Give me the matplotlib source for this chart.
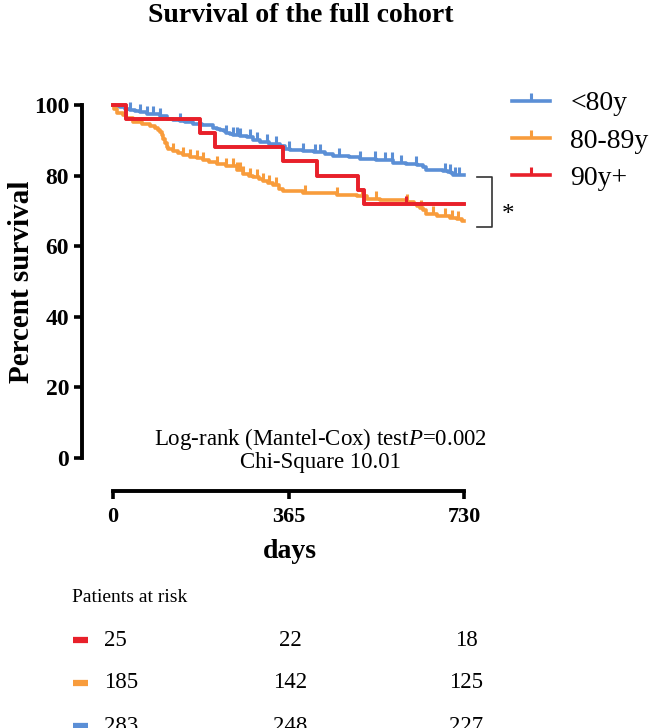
import numpy as np
import matplotlib
matplotlib.use("Agg")
import matplotlib.pyplot as plt
from matplotlib.lines import Line2D

plt.rcParams['font.family'] = ['Liberation Serif', 'DejaVu Serif']
plt.rcParams['mathtext.fontset'] = 'custom'
plt.rcParams['mathtext.rm'] = 'Liberation Serif'
plt.rcParams['mathtext.it'] = 'Liberation Serif:italic'

### survival curves (days, percent survival)
days_u80 = [0, 5, 15, 25, 35, 45, 56, 70, 98, 112, 125, 139, 150, 167, 185, 209, 216, 223, 230,
            236, 243, 250, 264, 278, 292, 306, 325, 347, 358, 368, 395, 417, 440, 458, 490, 514,
            548, 583, 610, 632, 645, 652, 687, 697, 703, 708, 730]
surv_u80 = [100, 99.6, 99.3, 98.9, 98.6, 98.2, 97.9, 97.5, 96.8, 96.1, 95.8, 95.4, 95.1, 94.7, 94.3,
            93.6, 93.3, 92.9, 92.6, 92.2, 91.9, 91.5, 91.2, 90.8, 90.1, 89.4, 89.0, 88.3, 87.6, 87.3,
            86.9, 86.6, 86.2, 85.5, 85.2, 84.8, 84.5, 83.7, 83.4, 83.0, 82.3, 81.6, 81.3, 80.9, 80.6,
            80.2, 80.2]
cens_u80 = [35, 56, 70, 84, 98, 140, 236, 250, 258, 264, 285, 300, 320, 340, 365, 395, 420, 430,
            470, 514, 545, 565, 580, 600, 630, 690, 700, 712, 720]

days_80 = [0, 2, 8, 20, 27, 42, 60, 77, 88, 94, 98, 101, 105, 108, 112, 115, 125, 135, 146, 160,
           174, 188, 200, 216, 236, 257, 271, 282, 292, 303, 313, 323, 333, 345, 354, 396, 465, 507,
           528, 555, 611, 625, 632, 639, 645, 652, 673, 701, 715, 725, 730]
surv_80 = [100, 98.9, 97.8, 97.3, 96.2, 95.1, 94.6, 94.1, 93.5, 93.0, 92.4, 91.4, 90.3, 89.2, 88.1,
           87.6, 87.0, 86.5, 85.9, 85.4, 84.9, 84.3, 83.8, 83.2, 82.7, 81.6, 80.5, 80.0, 79.5, 78.9,
           78.4, 77.8, 77.3, 76.2, 75.7, 75.1, 74.6, 74.1, 73.5, 73.0, 72.4, 71.9, 71.4, 70.8, 70.3,
           69.2, 68.6, 68.1, 67.6, 67.0, 67.0]
cens_80 = [125, 146, 160, 174, 188, 216, 236, 250, 257, 264, 271, 285, 300, 313, 325, 340, 400,
           465, 518, 548, 611, 640, 665, 690, 705, 718]

days_90 = [0, 27, 180, 212, 354, 425, 510, 522, 730]
surv_90 = [100, 96, 92, 88, 84, 80, 76, 72, 72]
cens_90 = [609]

labels = ['<80y', '80-89y', '90y+']
colors = ['#5b8fd6', '#f89c3c', '#e8202a']

risk_days = [0, 365, 730]
risk_90 = [25, 22, 18]
risk_80 = [185, 142, 125]
risk_u80 = [283, 248, 227]

W, H = 652, 728
fig = plt.figure(figsize=(W / 100, H / 100), dpi=100)

def fx(px):
    return px / W

def fy(py):
    return 1 - py / H

ax = fig.add_axes([fx(113), fy(458), fx(464) - fx(113), fy(105) - fy(458)])

def step_value(days, surv, d):
    i = np.searchsorted(days, d, side='right') - 1
    return np.array(surv)[i]

groups = [(days_u80, surv_u80, cens_u80), (days_80, surv_80, cens_80), (days_90, surv_90, cens_90)]
for (d, s, c), col in zip(groups, colors):
    ax.step(d, s, where='post', color=col, lw=2.6, clip_on=False)
    ax.plot(c, [step_value(d, s, x) for x in c], ls='', marker=2, color=col,
            ms=6, mew=2.2, clip_on=False)
# red on top
ax.step(days_90, surv_90, where='post', color=colors[2], lw=2.6, clip_on=False)

ax.set_xlim(0, 730)
ax.set_ylim(0, 100)
ax.set_xticks(risk_days)
ax.set_yticks([0, 20, 40, 60, 80, 100])
for side in ['top', 'right']:
    ax.spines[side].set_visible(False)
ax.spines['left'].set_position(('outward', 22.5))
ax.spines['bottom'].set_position(('outward', 23.5))
for side in ['left', 'bottom']:
    ax.spines[side].set_linewidth(2.8)
ax.tick_params(width=2.6, length=6)
ax.tick_params(axis='x', pad=6, labelsize=16)
ax.tick_params(axis='y', pad=3, labelsize=17)
for lab in ax.get_xticklabels() + ax.get_yticklabels():
    lab.set_fontweight('bold')

fig.text(fx(22), fy(282), 'Percent survival', rotation=90, ha='center', va='center',
         fontsize=21, fontweight='bold')
fig.text(fx(290), fy(552), 'days', ha='center', va='center', fontsize=20, fontweight='bold')
fig.text(fx(301), fy(15), 'Survival of the full cohort', ha='center', va='center',
         fontsize=20, fontweight='bold')

ax.text(431, 5.5, 'Log-rank (Mantel-Cox) test$\\it{P}$=0.002', ha='center', va='center',
        fontsize=16.5)
ax.text(431, -1.4, 'Chi-Square 10.01', ha='center', va='center', fontsize=16.5, clip_on=False)

# significance bracket
ax.plot([757, 788, 788, 757], [79.5, 79.5, 65.5, 65.5], color='#333333', lw=1.2, clip_on=False)
ax.text(821, 68.8, '*', ha='center', va='center', fontsize=18, clip_on=False)

handles = [Line2D([], [], color=c, lw=2.6, marker=2, ms=6, mew=2.2) for c in colors]
ax.legend(handles, labels, loc='upper left', bbox_to_anchor=(fx(512), fy(91)),
          bbox_transform=fig.transFigure, frameon=False, fontsize=20, handlelength=1.35,
          handletextpad=0.75, labelspacing=0.42, borderaxespad=0, borderpad=0, numpoints=1)

# patients at risk table, sharing the day scale of the main plot
row_px = [640, 683, 726]
tab = fig.add_axes([fx(113), 0, fx(464) - fx(113), 1])
tab.set_xlim(0, 730)
tab.set_ylim(H, 0)
tab.axis('off')
tab.text(-86, 597, 'Patients at risk', ha='left', va='center', fontsize=14)
for r, vals, col in zip(row_px, [risk_90, risk_80, risk_u80], colors[::-1]):
    tab.plot([-83, -52], [r, r], color=col, lw=4.5, solid_capstyle='butt', clip_on=False)
    for j, (d, v) in enumerate(zip(risk_days, vals)):
        if j == 0:
            tab.text(-18, r, str(v), ha='left', va='center', fontsize=16.5, clip_on=False)
        else:
            tab.text(d + 4, r, str(v), ha='center', va='center', fontsize=16.5, clip_on=False)

fig.savefig('out.png', dpi=100)
